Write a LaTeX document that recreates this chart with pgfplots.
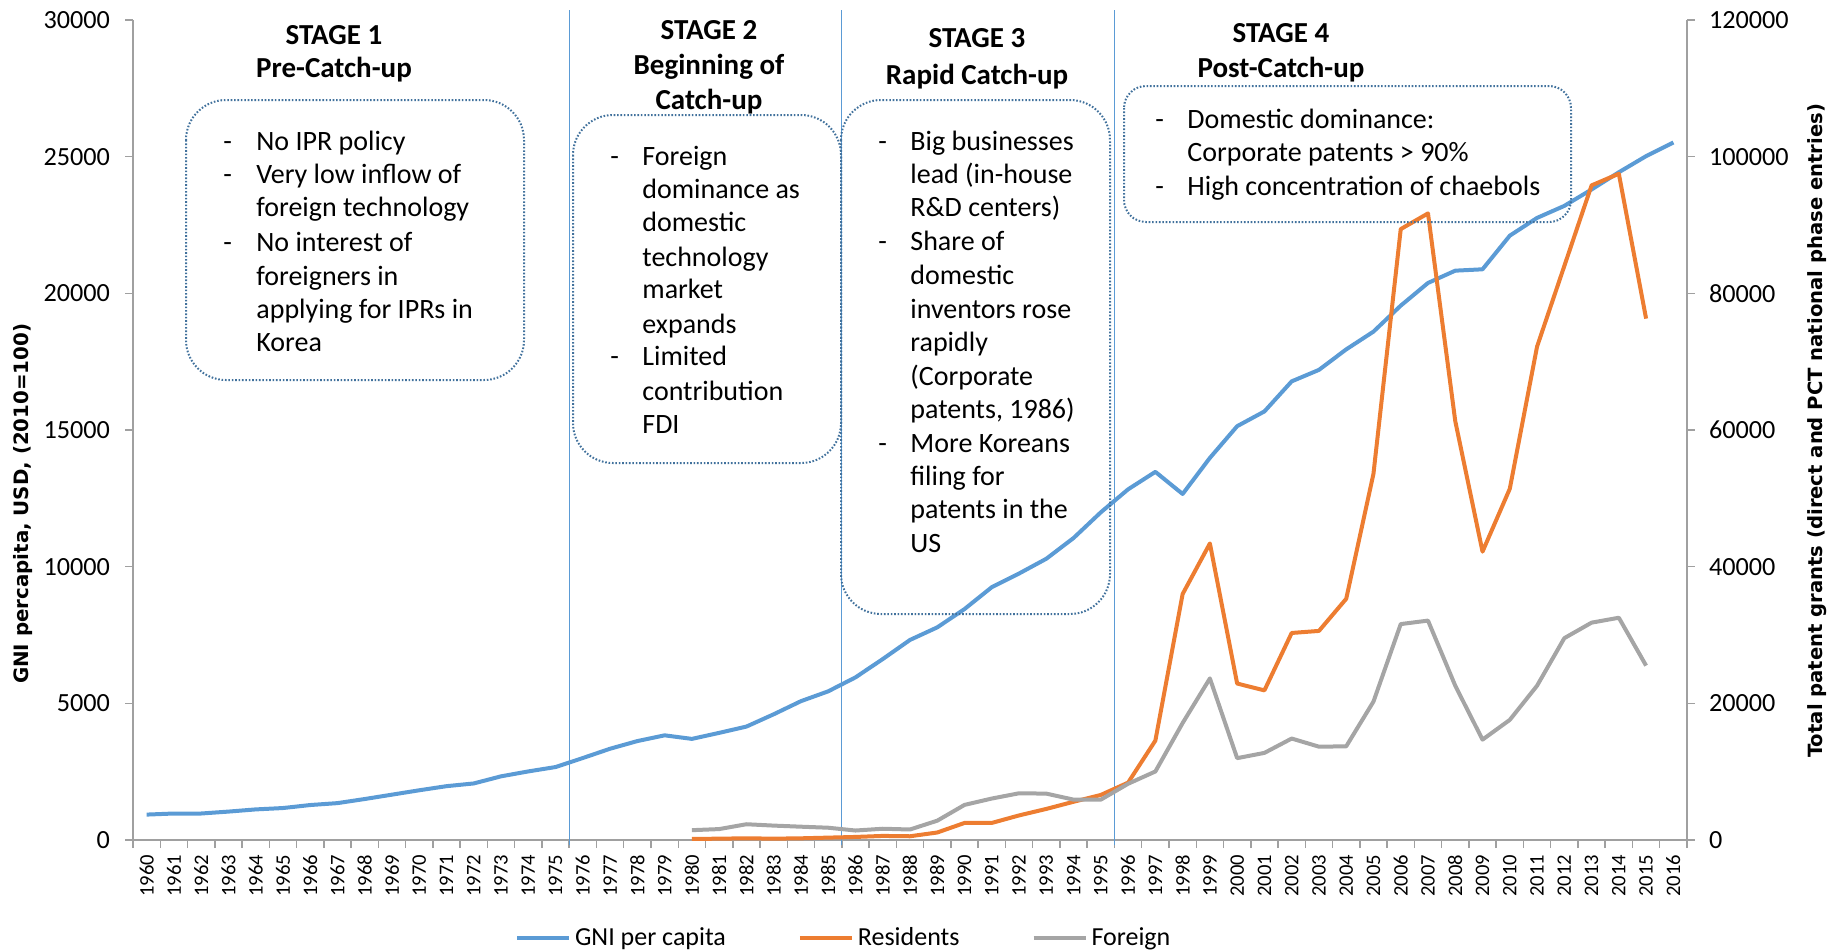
\documentclass[border=0pt]{standalone}
\usepackage{fontspec}
\setmainfont{Carlito}
\newfontfamily\labfont{DejaVu Sans}
\usepackage{pgfplots}
\usepackage{pgfplotstable}
\pgfplotsset{compat=1.18}
\definecolor{gnic}{HTML}{5B9BD5}
\definecolor{resc}{HTML}{ED7D31}
\definecolor{forc}{HTML}{A5A5A5}
\definecolor{axgray}{HTML}{A0A0A0}
\definecolor{boxc}{HTML}{41719C}

\pgfplotstableread{
year gni
1960 930
1961 970
1962 970
1963 1040
1964 1120
1965 1170
1966 1280
1967 1350
1968 1500
1969 1660
1970 1820
1971 1970
1972 2070
1973 2330
1974 2510
1975 2670
1976 3000
1977 3340
1978 3620
1979 3830
1980 3700
1981 3920
1982 4150
1983 4600
1984 5080
1985 5440
1986 5950
1987 6620
1988 7320
1989 7780
1990 8450
1991 9250
1992 9750
1993 10290
1994 11050
1995 11990
1996 12830
1997 13470
1998 12660
1999 13980
2000 15140
2001 15680
2002 16780
2003 17200
2004 17950
2005 18600
2006 19550
2007 20380
2008 20830
2009 20880
2010 22110
2011 22760
2012 23200
2013 23800
2014 24430
2015 25020
2016 25520
}\gnitable

\pgfplotstableread{
year res for
1980 150 1440
1981 200 1600
1982 250 2310
1983 200 2110
1984 250 1950
1985 350 1800
1986 450 1390
1987 600 1650
1988 550 1540
1989 1100 2830
1990 2500 5140
1991 2500 6070
1992 3600 6840
1993 4550 6790
1994 5600 5910
1995 6600 5910
1996 8400 8230
1997 14550 10030
1998 36000 17120
1999 43400 23650
2000 22900 11980
2001 21900 12750
2002 30300 14850
2003 30600 13660
2004 35300 13710
2005 53600 20260
2006 89400 31600
2007 91700 32110
2008 61300 22580
2009 42200 14690
2010 51400 17580
2011 72200 22580
2012 84000 29540
2013 95800 31810
2014 97500 32530
2015 76300 25520
}\pattable

\newcommand\bodyf{\fontsize{14}{16.7}\selectfont}
\newcommand\titlef{\fontsize{14.5}{17}\selectfont\bfseries}
\newcommand\tl[3]{\node[anchor=base,font=\titlef,inner sep=0pt] at (#1,#2+9) {#3};}
\newcommand\bl[3]{\node[anchor=base west,font=\bodyf,inner sep=0pt] at (#1,#2+8.5) {#3};}

\pgfplotsset{
  common/.style={
    scale only axis, width=777pt, height=410pt,
    at={(66.5pt,-420pt)}, anchor=south west,
    xmin=1959.5, xmax=2016.5,
    axis line style={axgray, line width=0.75pt},
    tick style={axgray, line width=0.75pt},
    tick align=outside, major tick length=4pt,
    /pgf/number format/.cd, fixed, precision=0, 1000 sep={}, assume math mode=true,
    /pgfplots/.cd,
    scaled y ticks=false,
    no markers,
    clip=false,
  },
}

\begin{document}
\begin{tikzpicture}
\path[use as bounding box] (0,0) rectangle (923.5pt,-475pt);
\begin{axis}[common,
  ymin=0, ymax=30000,
  axis x line*=bottom, axis y line*=left,
  xtick={1959.5,1960.5,...,2016.5},
  x tick label as interval,
  xticklabels={1960,1961,1962,1963,1964,1965,1966,1967,1968,1969,1970,1971,1972,1973,1974,1975,1976,1977,1978,1979,1980,1981,1982,1983,1984,1985,1986,1987,1988,1989,1990,1991,1992,1993,1994,1995,1996,1997,1998,1999,2000,2001,2002,2003,2004,2005,2006,2007,2008,2009,2010,2011,2012,2013,2014,2015,2016},
  xticklabel style={rotate=90, anchor=east, font=\fontsize{10.3}{12}\selectfont},
  ytick={0,5000,...,30000},
  yticklabel style={font=\fontsize{13.1}{15}\selectfont, xshift=-4pt},
  ylabel={GNI percapita, USD, (2010=100)},
  ylabel style={at={(axis description cs:-0.0708,0.41)}, anchor=center, font=\labfont\bfseries\fontsize{9.9}{12}\selectfont},
]
\draw[gnic, line width=0.6pt] (axis cs:1975.5,-200) -- (axis cs:1975.5,30370);
\draw[gnic, line width=0.6pt] (axis cs:1985.5,-200) -- (axis cs:1985.5,30370);
\draw[gnic, line width=0.6pt] (axis cs:1995.5,-200) -- (axis cs:1995.5,30370);
\addplot[gnic, line width=2pt, line join=round] table[x=year, y=gni] {\gnitable};
\end{axis}
\begin{axis}[common,
  ymin=0, ymax=120000,
  axis y line*=right, axis x line=none,
  ytick={0,20000,...,120000},
  yticklabel style={font=\fontsize{13.1}{15}\selectfont, xshift=3.5pt},
  ylabel={Total patent grants (direct and PCT national phase entries)},
  ylabel style={at={(axis description cs:1.0837,0.499)}, anchor=center, font=\labfont\bfseries\fontsize{9.8}{12}\selectfont},
  legend columns=3,
  legend style={at={(axis description cs:0.458,-0.1195)}, anchor=center, draw=none, fill=none,
    font=\fontsize{13}{15}\selectfont,
    /tikz/every even column/.append style={column sep=34pt}},
  legend image code/.code={\draw[#1] (0pt,0pt) -- (26pt,0pt);},
]
\addlegendimage{gnic, line width=2pt}
\addlegendentry{GNI per capita}
\addplot[resc, line width=2pt, line join=round] table[x=year, y=res] {\pattable};
\addlegendentry{Residents}
\addplot[forc, line width=2pt, line join=round] table[x=year, y=for] {\pattable};
\addlegendentry{Foreign}
\end{axis}

\begin{scope}[x=0.5pt, y=-0.5pt]
\tikzset{bx/.style={draw=boxc, line width=1pt, dash pattern=on 0.8pt off 0.9pt}}
% boxes
\draw[bx, rounded corners=20pt] (186,100) rectangle (524,380);
\draw[bx, rounded corners=20pt] (573,115) rectangle (841,463);
\draw[bx, rounded corners=20pt] (841,100) rectangle (1110,614);
\draw[bx, rounded corners=11pt] (1124,86) rectangle (1571,222);
% titles
\tl{334}{35}{STAGE 1}
\tl{334}{68}{Pre-Catch-up}
\tl{709}{30}{STAGE 2}
\tl{709}{65}{Beginning of}
\tl{709}{100}{Catch-up}
\tl{977}{38}{STAGE 3}
\tl{977}{75}{Rapid Catch-up}
\tl{1281}{33}{STAGE 4}
\tl{1281}{68}{Post-Catch-up}
% stage 1
\bl{223}{142}{-}\bl{256}{142}{No IPR policy}
\bl{223}{175}{-}\bl{256}{175}{Very low inflow of}
\bl{256}{208}{foreign technology}
\bl{223}{243}{-}\bl{256}{243}{No interest of}
\bl{256}{277}{foreigners in}
\bl{256}{310}{applying for IPRs in}
\bl{256}{343}{Korea}
% stage 2
\bl{610}{157}{-}\bl{642}{157}{Foreign}
\bl{642}{190}{dominance as}
\bl{642}{223}{domestic}
\bl{642}{258}{technology}
\bl{642}{290}{market}
\bl{642}{325}{expands}
\bl{610}{357}{-}\bl{642}{357}{Limited}
\bl{642}{392}{contribution}
\bl{642}{425}{FDI}
% stage 3
\bl{878}{142}{-}\bl{910}{142}{Big businesses}
\bl{910}{175}{lead (in-house}
\bl{910}{208}{R\&D centers)}
\bl{878}{242}{-}\bl{910}{242}{Share of}
\bl{910}{276}{domestic}
\bl{910}{310}{inventors rose}
\bl{910}{343}{rapidly}
\bl{910}{377}{(Corporate}
\bl{910}{410}{patents, 1986)}
\bl{878}{444}{-}\bl{910}{444}{More Koreans}
\bl{910}{477}{filing for}
\bl{910}{510}{patents in the}
\bl{910}{544}{US}
% stage 4
\bl{1155}{120}{-}\bl{1187}{120}{Domestic dominance:}
\bl{1187}{153}{Corporate patents > 90\%}
\bl{1155}{187}{-}\bl{1187}{187}{High concentration of chaebols}
\end{scope}
\end{tikzpicture}
\end{document}
